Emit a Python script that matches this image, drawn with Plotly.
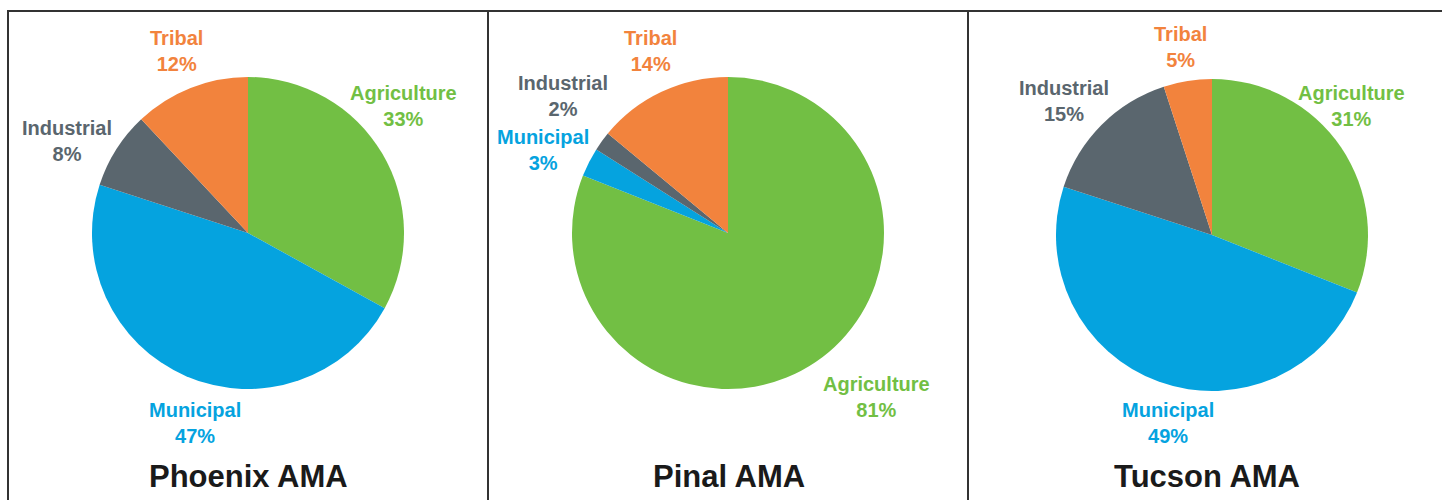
import plotly.graph_objects as go

# Water demand share by sector for each Active Management Area
regions = ["Phoenix AMA", "Pinal AMA", "Tucson AMA"]
sectors = ["Agriculture", "Municipal", "Industrial", "Tribal"]
phoenix_share = [33, 47, 8, 12]
pinal_share = [81, 3, 2, 14]
tucson_share = [31, 49, 15, 5]

shares = [phoenix_share, pinal_share, tucson_share]
sector_colors = {
    "Agriculture": "#72BF44",
    "Municipal": "#05A3DF",
    "Industrial": "#5A666E",
    "Tribal": "#F2833D",
}

W, H = 1442, 500
FONT = "Liberation Sans, Arial, Helvetica, sans-serif"

# Pie centres and radius (pixels)
centres = [(248, 233), (728, 233), (1212, 235)]
radius = 156

# Label anchor points (pixels) per region, keyed by sector
label_pos = [
    {"Agriculture": (403, 106), "Municipal": (195, 423), "Industrial": (67, 141), "Tribal": (176, 51)},
    {"Agriculture": (877, 397), "Municipal": (543, 150), "Industrial": (563, 96), "Tribal": (650, 51)},
    {"Agriculture": (1351, 106), "Municipal": (1168, 423), "Industrial": (1064, 101), "Tribal": (1180, 47)},
]
title_pos = [(248, 476), (729, 476), (1207, 476)]


def px(x):
    return x / W


def py(y):
    return 1 - y / H


fig = go.Figure()
for i, region in enumerate(regions):
    cx, cy = centres[i]
    fig.add_trace(
        go.Pie(
            labels=sectors,
            values=shares[i],
            sort=False,
            direction="clockwise",
            rotation=0,
            textinfo="none",
            hoverinfo="label+percent",
            marker=dict(colors=[sector_colors[s] for s in sectors], line=dict(width=0)),
            domain=dict(
                x=[px(cx - radius), px(cx + radius)],
                y=[py(cy + radius), py(cy - radius)],
            ),
            showlegend=False,
        )
    )

annotations = []
for i, region in enumerate(regions):
    for s, v in zip(sectors, shares[i]):
        x, y = label_pos[i][s]
        annotations.append(
            dict(
                x=px(x), y=py(y), xref="paper", yref="paper",
                text=f"<b>{s}<br>{v}%</b>",
                showarrow=False, xanchor="center", yanchor="middle",
                font=dict(family=FONT, size=20, color=sector_colors[s]),
            )
        )
    tx, ty = title_pos[i]
    annotations.append(
        dict(
            x=px(tx), y=py(ty), xref="paper", yref="paper",
            text=f"<b>{region}</b>",
            showarrow=False, xanchor="center", yanchor="middle",
            font=dict(family=FONT, size=31, color="#1A1A1A"),
        )
    )

# Panel frame: top rule, left edge and two dividers
line_style = dict(color="#333333", width=2)
shapes = [
    dict(type="line", xref="paper", yref="paper", x0=px(7), x1=1, y0=py(11), y1=py(11), line=line_style),
    dict(type="line", xref="paper", yref="paper", x0=px(8), x1=px(8), y0=py(11), y1=0, line=line_style),
    dict(type="line", xref="paper", yref="paper", x0=px(488), x1=px(488), y0=py(11), y1=0, line=line_style),
    dict(type="line", xref="paper", yref="paper", x0=px(968), x1=px(968), y0=py(11), y1=0, line=line_style),
]

fig.update_layout(
    width=W, height=H,
    margin=dict(l=0, r=0, t=0, b=0),
    paper_bgcolor="white", plot_bgcolor="white",
    annotations=annotations, shapes=shapes,
)

fig.write_html("out.html")
